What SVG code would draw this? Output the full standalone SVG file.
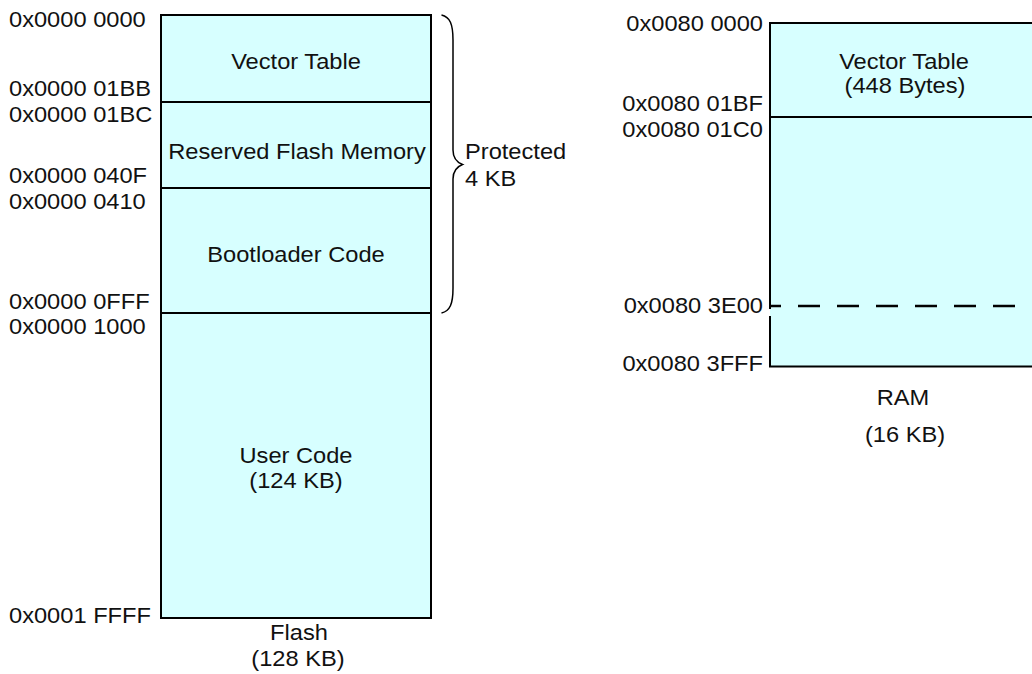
<svg xmlns="http://www.w3.org/2000/svg" width="1032" height="674" viewBox="0 0 1032 674">
  <style>
    .t { font-family: "Liberation Sans", Arial, Helvetica, sans-serif; font-size: 21.5px; fill: #111; }
    .c { text-anchor: middle; }
    .e { text-anchor: end; }
    .blk { fill: #d7ffff; stroke: #000; stroke-width: 2; }
    .div { stroke: #000; stroke-width: 2; fill: none; }
    .dash { stroke: #000; stroke-width: 2.4; fill: none; stroke-dasharray: 22 17; }
  </style>
  <rect width="1032" height="674" fill="#fff"/>

  <!-- Flash memory map -->
  <g id="flash">
    <rect class="blk" x="161" y="15" width="270" height="603"/>
    <line class="div" x1="161" y1="102" x2="431" y2="102"/>
    <line class="div" x1="161" y1="188" x2="431" y2="188"/>
    <line class="div" x1="161" y1="313" x2="431" y2="313"/>
  </g>
  <g id="flash-vector-table">
    <text class="t c" transform="translate(296 69) scale(1.1 1)">Vector Table</text>
  </g>
  <g id="flash-reserved">
    <text class="t c" transform="translate(297 159) scale(1.1 1)">Reserved Flash Memory</text>
  </g>
  <g id="flash-bootloader">
    <text class="t c" transform="translate(296 262) scale(1.1 1)">Bootloader Code</text>
  </g>
  <g id="flash-user">
    <text class="t c" transform="translate(296 463) scale(1.1 1)">User Code</text>
    <text class="t c" transform="translate(296 488) scale(1.1 1)">(124 KB)</text>
  </g>
  <g id="flash-caption">
    <text class="t c" transform="translate(299 640) scale(1.1 1)">Flash</text>
    <text class="t c" transform="translate(298 666) scale(1.1 1)">(128 KB)</text>
  </g>
  <g id="flash-addresses">
    <text class="t" transform="translate(9 27) scale(1.1 1)">0x0000 0000</text>
    <text class="t" transform="translate(9 96) scale(1.1 1)">0x0000 01BB</text>
    <text class="t" transform="translate(9 122) scale(1.1 1)">0x0000 01BC</text>
    <text class="t" transform="translate(9 183) scale(1.1 1)">0x0000 040F</text>
    <text class="t" transform="translate(9 209) scale(1.1 1)">0x0000 0410</text>
    <text class="t" transform="translate(9 309) scale(1.1 1)">0x0000 0FFF</text>
    <text class="t" transform="translate(9 334) scale(1.1 1)">0x0000 1000</text>
    <text class="t" transform="translate(9 623) scale(1.1 1)">0x0001 FFFF</text>
  </g>

  <!-- Protected region brace -->
  <g id="protected">
    <path d="M441.5 15 C450 17 453 24 453 40 L453 150 C453 158 456 162 462.5 164.5 C456 167 453 171 453 179 L453 288 C453 304 450 311 441.5 313" fill="none" stroke="#000" stroke-width="1.5"/>
    <text class="t" transform="translate(465 159) scale(1.1 1)">Protected</text>
    <text class="t" transform="translate(465 186) scale(1.1 1)">4 KB</text>
  </g>

  <!-- RAM memory map -->
  <g id="ram">
    <rect x="770" y="23" width="280" height="344" fill="#d7ffff"/>
    <path class="div" d="M770 309 L770 23 L1040 23"/>
    <line class="div" x1="770" y1="117" x2="1040" y2="117"/>
    <line class="dash" x1="770" y1="306" x2="1040" y2="306" stroke-dashoffset="11"/>
    <line class="div" x1="770" y1="316" x2="770" y2="367"/>
    <line class="div" x1="769" y1="366.5" x2="1040" y2="366.5" stroke-width="2.4"/>
  </g>
  <g id="ram-vector-table">
    <text class="t c" transform="translate(904 69) scale(1.1 1)">Vector Table</text>
    <text class="t c" transform="translate(905 93) scale(1.1 1)">(448 Bytes)</text>
  </g>
  <g id="ram-caption">
    <text class="t c" transform="translate(903 405) scale(1.1 1)">RAM</text>
    <text class="t c" transform="translate(905 442) scale(1.1 1)">(16 KB)</text>
  </g>
  <g id="ram-addresses">
    <text class="t e" transform="translate(763 31) scale(1.1 1)">0x0080 0000</text>
    <text class="t e" transform="translate(763 111) scale(1.1 1)">0x0080 01BF</text>
    <text class="t e" transform="translate(763 137) scale(1.1 1)">0x0080 01C0</text>
    <text class="t e" transform="translate(763 313) scale(1.1 1)">0x0080 3E00</text>
    <text class="t e" transform="translate(763 371) scale(1.1 1)">0x0080 3FFF</text>
  </g>
</svg>
